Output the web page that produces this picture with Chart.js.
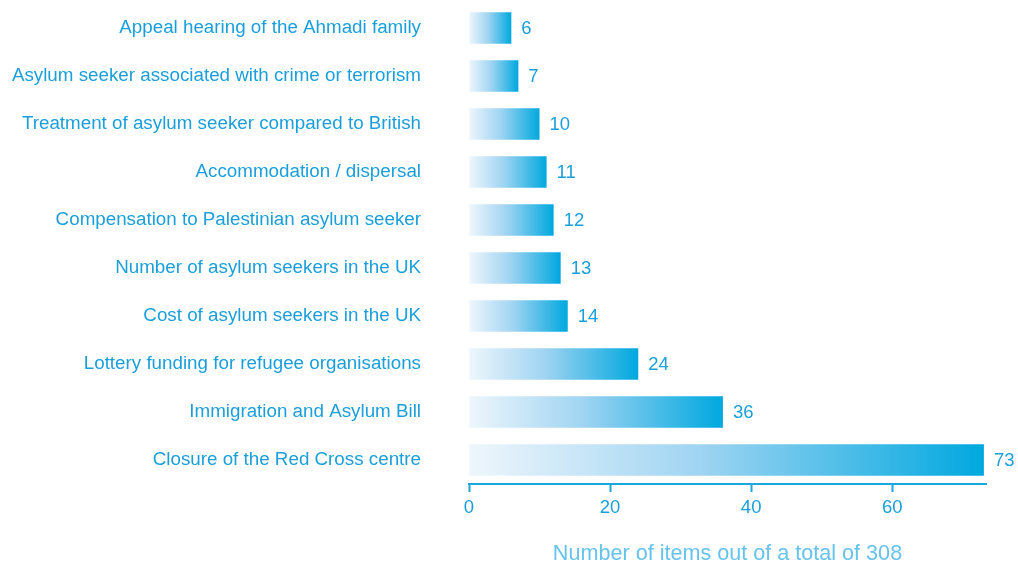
<!DOCTYPE html>
<html>
<head>
<meta charset="utf-8">
<script src="https://cdn.jsdelivr.net/npm/chart.js@4/dist/chart.umd.min.js"></script>
<style>
  html, body { margin: 0; padding: 0; background: #fff; }
  #wrap { width: 1018px; height: 562px; }
</style>
</head>
<body>
<div id="wrap"><canvas id="chartCanvas" width="1018" height="562"></canvas></div>
<script>
// Data
var topics = [
    'Appeal hearing of the Ahmadi family',
    'Asylum seeker associated with crime or terrorism',
    'Treatment of asylum seeker compared to British',
    'Accommodation / dispersal',
    'Compensation to Palestinian asylum seeker',
    'Number of asylum seekers in the UK',
    'Cost of asylum seekers in the UK',
    'Lottery funding for refugee organisations',
    'Immigration and Asylum Bill',
    'Closure of the Red Cross centre'
];
var itemCounts = [6, 7, 10, 11, 12, 13, 14, 24, 36, 73];
var axisTicks = [0, 20, 40, 60];
var axisTitle = 'Number of items out of a total of 308';

var textColor = '#1b9fda';
var fontFamily = '"Liberation Sans", Arial, sans-serif';

// gradient per bar, from its left edge to its right edge
function barGradient(context) {
    var chart = context.chart;
    if (!chart.chartArea) {
        return '#00a8df';
    }
    var xScale = chart.scales.x;
    var x0 = xScale.getPixelForValue(0);
    var x1 = xScale.getPixelForValue(itemCounts[context.dataIndex]);
    var g = chart.ctx.createLinearGradient(x0, 0, x1, 0);
    g.addColorStop(0, '#eef6fc');
    g.addColorStop(0.45, '#9fd4f2');
    g.addColorStop(1, '#00a8df');
    return g;
}

// value labels at the end of each bar
var valueLabels = {
    id: 'valueLabels',
    afterDatasetsDraw: function (chart) {
        var ctx = chart.ctx;
        var meta = chart.getDatasetMeta(0);
        ctx.save();
        ctx.fillStyle = textColor;
        ctx.font = '18.5px ' + fontFamily;
        ctx.textAlign = 'left';
        ctx.textBaseline = 'middle';
        meta.data.forEach(function (bar, i) {
            ctx.fillText(String(itemCounts[i]), bar.x + 10, bar.y + 1);
        });
        ctx.restore();
    }
};

function drawGraph(chartContextId) {
    var ctx = document.getElementById(chartContextId);
    return new Chart(ctx, {
        type: 'bar',
        data: {
            labels: topics,
            datasets: [{
                data: itemCounts,
                backgroundColor: barGradient,
                borderWidth: 0,
                barPercentage: 0.66,
                categoryPercentage: 1
            }]
        },
        options: {
            indexAxis: 'y',
            responsive: false,
            animation: false,
            layout: { padding: { top: 4, right: 32, bottom: 0, left: 0 } },
            plugins: {
                legend: { display: false },
                tooltip: { enabled: false }
            },
            scales: {
                y: {
                    grid: { display: false, drawTicks: false },
                    border: { display: false },
                    ticks: {
                        color: textColor,
                        padding: 48,
                        font: { family: fontFamily, size: 18.8 }
                    },
                    afterFit: function (scale) {
                        // tick padding would otherwise push the chart area down
                        scale.width = 469;
                        scale.paddingTop = 0;
                        scale.paddingBottom = 0;
                    }
                },
                x: {
                    min: 0,
                    max: 73.3,
                    afterBuildTicks: function (scale) {
                        scale.ticks = axisTicks.map(function (v) { return { value: v }; });
                    },
                    afterFit: function (scale) { scale.height = 78; },
                    grid: {
                        display: true,
                        drawOnChartArea: false,
                        drawTicks: true,
                        tickLength: 8,
                        tickWidth: 2,
                        tickColor: '#1ba6de'
                    },
                    border: { display: true, color: '#1ba6de', width: 2 },
                    ticks: {
                        color: textColor,
                        padding: 5,
                        font: { family: fontFamily, size: 18.5 }
                    },
                    title: {
                        display: true,
                        text: axisTitle,
                        color: '#66c3ec',
                        padding: { top: 18, bottom: -5 },
                        font: { family: fontFamily, size: 21.6 }
                    }
                }
            }
        },
        plugins: [valueLabels]
    });
}

drawGraph('chartCanvas');
</script>
</body>
</html>
